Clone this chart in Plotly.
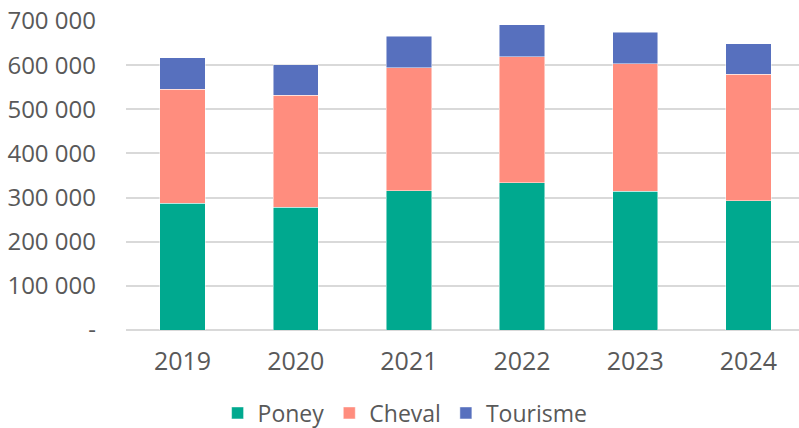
import plotly.graph_objects as go

years = ["2019", "2020", "2021", "2022", "2023", "2024"]
poney = [286700, 278300, 315300, 333400, 313800, 292700]
cheval = [258700, 253500, 279100, 285200, 289600, 286600]
tourisme = [71700, 68600, 70900, 73100, 71000, 68700]

y_tickvals = [0, 100000, 200000, 300000, 400000, 500000, 600000, 700000]
y_ticktext = ["-", "100 000", "200 000", "300 000", "400 000", "500 000", "600 000", "700 000"]

FONT = "Open Sans"
GRAY = "#595959"

fig = go.Figure()
for name, vals, col in [("Poney", poney, "#00A98F"),
                        ("Cheval", cheval, "#FF8D7E"),
                        ("Tourisme", tourisme, "#5770BE")]:
    fig.add_trace(go.Bar(x=years, y=vals, name=name,
                         marker=dict(color=col, line=dict(width=0.8, color="rgba(255,255,255,0.6)"))))

fig.update_layout(
    barmode="stack",
    bargap=0.6,
    width=799, height=428,
    margin=dict(l=126, r=0, t=21, b=98, autoexpand=False),
    paper_bgcolor="white", plot_bgcolor="white",
    font=dict(family=FONT, size=23, color=GRAY),
    legend=dict(orientation="h", xref="container", yref="container",
                x=0.507, xanchor="center", y=1 - 413/428, yanchor="middle",
                font=dict(size=23, color=GRAY), itemwidth=30,
                traceorder="normal"),
    xaxis=dict(range=[-0.5, 5.447], showgrid=False, showline=False,
               tickfont=dict(size=25, color=GRAY), ticklabelstandoff=14),
    yaxis=dict(range=[0, 700000], tickvals=y_tickvals, ticktext=y_ticktext,
               showgrid=True, gridcolor="#D9D9D9", gridwidth=2,
               zeroline=True, zerolinecolor="#D9D9D9", zerolinewidth=2,
               tickfont=dict(size=24, color=GRAY), ticklabelstandoff=29),
)

fig.write_html("out.html", config={"displayModeBar": False},
               post_script="document.body.style.margin='0';")
